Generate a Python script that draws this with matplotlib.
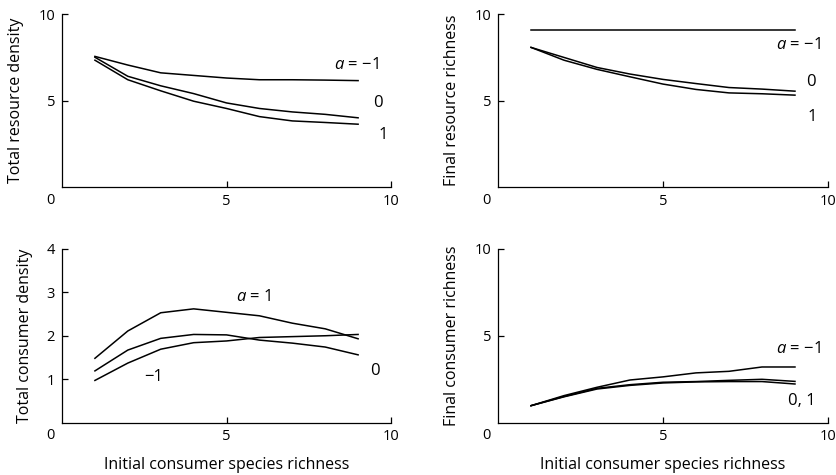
import matplotlib
matplotlib.use('Agg')
import matplotlib.pyplot as plt

plt.rcParams['font.family'] = ['Open Sans', 'DejaVu Sans']
plt.rcParams['mathtext.fontset'] = 'custom'
plt.rcParams['mathtext.rm'] = 'Open Sans'
plt.rcParams['mathtext.it'] = 'Open Sans:italic'

# initial consumer species richness
richness = [1, 2, 3, 4, 5, 6, 7, 8, 9]

# total resource density, by a
res_dens_m1 = [7.55, 7.05, 6.6, 6.45, 6.3, 6.2, 6.2, 6.18, 6.15]
res_dens_0 = [7.5, 6.4, 5.85, 5.4, 4.86, 4.54, 4.34, 4.2, 4.0]
res_dens_1 = [7.33, 6.2, 5.56, 4.96, 4.54, 4.07, 3.82, 3.73, 3.63]

# final resource richness, by a
res_rich_m1 = [9.1, 9.1, 9.1, 9.1, 9.1, 9.1, 9.1, 9.1, 9.1]
res_rich_0 = [8.07, 7.49, 6.91, 6.53, 6.22, 5.98, 5.75, 5.66, 5.54]
res_rich_1 = [8.07, 7.33, 6.8, 6.37, 5.95, 5.64, 5.44, 5.39, 5.31]

# total consumer density, by a
con_dens_1 = [1.48, 2.11, 2.53, 2.62, 2.54, 2.46, 2.29, 2.16, 1.93]
con_dens_0 = [1.19, 1.67, 1.94, 2.03, 2.02, 1.9, 1.83, 1.74, 1.56]
con_dens_m1 = [0.97, 1.37, 1.69, 1.84, 1.88, 1.96, 1.98, 2.0, 2.03]

# final consumer richness, by a
con_rich_m1 = [0.97, 1.55, 2.03, 2.45, 2.63, 2.86, 2.95, 3.2, 3.2]
con_rich_0 = [0.97, 1.5, 1.97, 2.18, 2.32, 2.36, 2.43, 2.49, 2.37]
con_rich_1 = [0.97, 1.48, 1.93, 2.14, 2.28, 2.34, 2.36, 2.36, 2.22]

fig = plt.figure(figsize=(8.36, 4.75), dpi=100)
ax1 = fig.add_axes([0.0742, 0.6063, 0.3935, 0.3642])
ax2 = fig.add_axes([0.5957, 0.6063, 0.3947, 0.3642])
ax3 = fig.add_axes([0.0742, 0.1105, 0.3935, 0.3653])
ax4 = fig.add_axes([0.5957, 0.1105, 0.3947, 0.3653])

fs = 10.5
lw = 1.1


def style(ax, ymax, yticks, ylabel, xlabel=None):
    ax.set_xlim(0, 10)
    ax.set_ylim(0, ymax)
    for s in ['top', 'right']:
        ax.spines[s].set_visible(False)
    for s in ['left', 'bottom']:
        ax.spines[s].set_linewidth(0.9)
    ax.set_xticks([5, 10])
    ax.set_yticks(yticks)
    ax.tick_params(direction='in', length=4, width=0.9, labelsize=fs, pad=5)
    ax.set_ylabel(ylabel, fontsize=fs + 1, labelpad=10)
    if xlabel:
        ax.set_xlabel(xlabel, fontsize=fs + 1, labelpad=9)
    # shared origin label
    ax.annotate('0', xy=(0, 0), xycoords='axes fraction', xytext=(-8.6, -9.4),
                textcoords='offset points', ha='center', va='center', fontsize=fs)


style(ax1, 10, [5, 10], 'Total resource density')
ax1.plot(richness, res_dens_m1, color='black', lw=lw)
ax1.plot(richness, res_dens_0, color='black', lw=lw)
ax1.plot(richness, res_dens_1, color='black', lw=lw)
ax1.text(8.96, 7.08, '$a$ = \u22121', fontsize=fs + 1.5, ha='center', va='center')
ax1.text(9.6, 4.86, '0', fontsize=fs + 1.5, ha='center', va='center')
ax1.text(9.75, 3.0, '1', fontsize=fs + 1.5, ha='center', va='center')

style(ax2, 10, [5, 10], 'Final resource richness')
ax2.plot(richness, res_rich_m1, color='black', lw=lw)
ax2.plot(richness, res_rich_0, color='black', lw=lw)
ax2.plot(richness, res_rich_1, color='black', lw=lw)
ax2.text(9.09, 8.2, '$a$ = \u22121', fontsize=fs + 1.5, ha='center', va='center')
ax2.text(9.47, 6.08, '0', fontsize=fs + 1.5, ha='center', va='center')
ax2.text(9.52, 4.05, '1', fontsize=fs + 1.5, ha='center', va='center')

style(ax3, 4, [1, 2, 3, 4], 'Total consumer density', 'Initial consumer species richness')
ax3.plot(richness, con_dens_1, color='black', lw=lw)
ax3.plot(richness, con_dens_0, color='black', lw=lw)
ax3.plot(richness, con_dens_m1, color='black', lw=lw)
ax3.text(5.82, 2.9, '$a$ = 1', fontsize=fs + 1.5, ha='center', va='center')
ax3.text(2.78, 1.06, '\u22121', fontsize=fs + 1.5, ha='center', va='center')
ax3.text(9.51, 1.19, '0', fontsize=fs + 1.5, ha='center', va='center')

style(ax4, 10, [5, 10], 'Final consumer richness', 'Initial consumer species richness')
ax4.plot(richness, con_rich_m1, color='black', lw=lw)
ax4.plot(richness, con_rich_0, color='black', lw=lw)
ax4.plot(richness, con_rich_1, color='black', lw=lw)
ax4.text(9.09, 4.25, '$a$ = \u22121', fontsize=fs + 1.5, ha='center', va='center')
ax4.text(9.2, 1.22, '0, 1', fontsize=fs + 1.5, ha='center', va='center')

fig.savefig('out.png', dpi=100)
